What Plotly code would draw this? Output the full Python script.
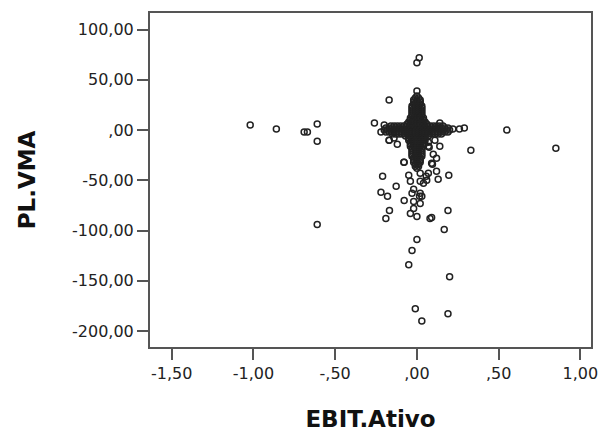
import plotly.graph_objects as go

# Sparse / outlying observations (EBIT.Ativo, PL.VMA)
outer_x = [-1.02, -0.86, -0.69, -0.67, -0.61, -0.61, -0.61, 0.014, 0.00, -0.17, 0.00,
           0.29, 0.26, 0.22, 0.55, 0.33, 0.85, -0.26, -0.20, -0.22, -0.17, 0.14, 0.14,
           0.07, -0.08, 0.09, -0.21, -0.127, -0.22, -0.18, -0.078, -0.168, -0.19, -0.04,
           0.00, 0.08, 0.09, 0.19, 0.167, 0.00, -0.03, -0.05, 0.20, -0.01, 0.03, 0.19,
           0.195, 0.13, 0.12, 0.057, 0.03, 0.02, 0.07, 0.02, 0.06, -0.05, -0.04, -0.02,
           -0.03, 0.016, -0.02, 0.02, -0.02, 0.04, 0.02, -0.078, 0.095, 0.075, -0.17,
           0.10, 0.12, -0.12, -0.14, 0.07, 0.11]
outer_y = [5, 1, -2, -2, 6, -11, -94, 72, 67, 30, 39,
           2, 1, 1, 0, -20, -18, 7, 5, -2, -10, -16, 7,
           -16, -32, -33, -46, -56, -62, -66, -70, -80, -88, -83,
           -86, -88, -87, -80, -99, -109, -120, -134, -146, -178, -190, -183,
           -45, -49, -41, -46, -66, -43, -43, -51, -50, -45, -51, -59,
           -63, -66, -71, -73, -78, -53, -63, -32, -34, -17, -10,
           -24, -28, -14, -8, -12, -10]

# Dense cross-shaped core around the origin: one PL.VMA level per row
core_levels = [34, 32, 30, 28, 26, 24, 22, 20, 18, 16, 14, 12, 10, 8, 6,
               4, 2, 0, -2, -4, -6,
               -8, -10, -12, -14, -16, -18, -20, -22, -24, -26, -28, -30, -32, -34, -36, -38]
core_rows = [
    [0.00],
    [-0.01, 0.01],
    [-0.02, 0.00, 0.02],
    [-0.02, 0.00, 0.02],
    [-0.02, 0.00, 0.02],
    [-0.03, -0.01, 0.01, 0.03],
    [-0.03, -0.01, 0.01, 0.03],
    [-0.03, -0.01, 0.01, 0.03],
    [-0.03, -0.01, 0.01, 0.03],
    [-0.03, -0.01, 0.01, 0.03],
    [-0.03, -0.01, 0.01, 0.03],
    [-0.04, -0.02, 0.00, 0.02, 0.04],
    [-0.04, -0.02, 0.00, 0.02, 0.04],
    [-0.05, -0.03, -0.01, 0.01, 0.03, 0.05],
    [-0.06, -0.04, -0.02, 0.00, 0.02, 0.04, 0.06],
    [-0.16, -0.14, -0.12, -0.10, -0.08, -0.06, -0.04, -0.02, 0.00, 0.02, 0.04, 0.06, 0.08, 0.10, 0.12, 0.14, 0.16],
    [-0.19, -0.17, -0.15, -0.13, -0.11, -0.09, -0.07, -0.05, -0.03, -0.01, 0.01, 0.03, 0.05, 0.07, 0.09, 0.11, 0.13, 0.15, 0.17, 0.19],
    [-0.20, -0.18, -0.16, -0.14, -0.12, -0.10, -0.08, -0.06, -0.04, -0.02, 0.00, 0.02, 0.04, 0.06, 0.08, 0.10, 0.12, 0.14, 0.16, 0.18, 0.20],
    [-0.19, -0.17, -0.15, -0.13, -0.11, -0.09, -0.07, -0.05, -0.03, -0.01, 0.01, 0.03, 0.05, 0.07, 0.09, 0.11, 0.13, 0.15, 0.17, 0.19],
    [-0.15, -0.13, -0.11, -0.09, -0.07, -0.05, -0.03, -0.01, 0.01, 0.03, 0.05, 0.07, 0.09, 0.11, 0.13, 0.15],
    [-0.07, -0.05, -0.03, -0.01, 0.01, 0.03, 0.05, 0.07],
    [-0.05, -0.03, -0.01, 0.01, 0.03, 0.05],
    [-0.05, -0.03, -0.01, 0.01, 0.03, 0.05],
    [-0.04, -0.02, 0.00, 0.02, 0.04],
    [-0.04, -0.02, 0.00, 0.02, 0.04],
    [-0.04, -0.02, 0.00, 0.02, 0.04],
    [-0.03, -0.01, 0.01, 0.03],
    [-0.03, -0.01, 0.01, 0.03],
    [-0.03, -0.01, 0.01, 0.03],
    [-0.03, -0.01, 0.01, 0.03],
    [-0.03, -0.01, 0.01, 0.03],
    [-0.02, 0.00, 0.02],
    [-0.02, 0.00, 0.02],
    [-0.02, 0.00, 0.02],
    [-0.01, 0.01],
    [-0.01, 0.01],
    [0.00],
]

ebit = list(outer_x)
plvma = list(outer_y)
for level, row in zip(core_levels, core_rows):
    ebit.extend(row)
    plvma.extend([level] * len(row))

x_ticks = [-1.5, -1.0, -0.5, 0.0, 0.5, 1.0]
x_labels = ["-1,50", "-1,00", "-,50", ",00", ",50", "1,00"]
y_ticks = [100, 50, 0, -50, -100, -150, -200]
y_labels = ["100,00", "50,00", ",00", "-50,00", "-100,00", "-150,00", "-200,00"]

fig = go.Figure(go.Scatter(
    x=ebit, y=plvma, mode="markers",
    marker=dict(symbol="circle-open", size=6, color="#222222", line=dict(width=1.5, color="#222222")),
    showlegend=False,
))

axis_common = dict(
    showline=True, linecolor="#555555", linewidth=2, mirror=True,
    ticks="outside", ticklen=11, tickwidth=2, tickcolor="#555555",
    showgrid=False, zeroline=False,
    tickfont=dict(family="DejaVu Sans", size=16, color="#222222"),
)

fig.update_xaxes(
    range=[-1.633, 1.065], tickvals=x_ticks, ticktext=x_labels,
    title=dict(text="<b>EBIT.Ativo</b>", font=dict(family="DejaVu Sans", size=23, color="#111111"), standoff=29),
    **axis_common,
)
fig.update_yaxes(
    range=[-216, 116.6], tickvals=y_ticks, ticktext=y_labels,
    title=dict(text="<b>PL.VMA</b>", font=dict(family="DejaVu Sans", size=23, color="#111111"), standoff=30),
    **axis_common,
)

fig.update_layout(
    width=603, height=438,
    margin=dict(l=150, r=12, t=13, b=91, autoexpand=False),
    plot_bgcolor="white", paper_bgcolor="white",
)

fig.write_html("out.html")
